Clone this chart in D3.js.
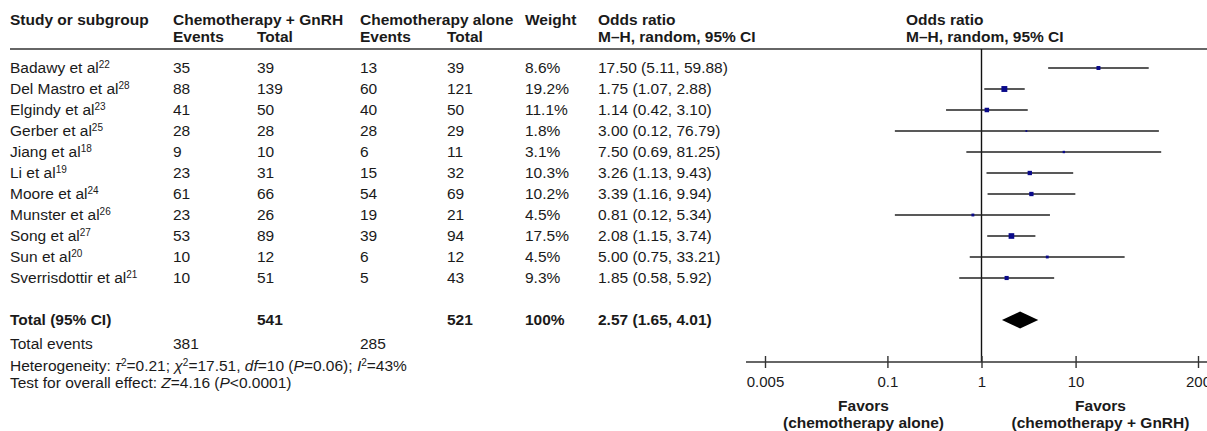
<!DOCTYPE html>
<html>
<head>
<meta charset="utf-8">
<script src="https://d3js.org/d3.v7.min.js"></script>
<style>
  body { margin: 0; background: #fff; }
  svg { display: block; }
  text { font-family: "Liberation Sans", Arial, sans-serif; font-size: 15.5px; fill: #1a1a1a; }
  .b { font-weight: bold; }
</style>
</head>
<body>
<script>
// study rows
const studies = ["Badawy et al", "Del Mastro et al", "Elgindy et al", "Gerber et al", "Jiang et al",
  "Li et al", "Moore et al", "Munster et al", "Song et al", "Sun et al", "Sverrisdottir et al"];
const refs = [22, 28, 23, 25, 18, 19, 24, 26, 27, 20, 21];
const gnrhEvents = [35, 88, 41, 28, 9, 23, 61, 23, 53, 10, 10];
const gnrhTotal = [39, 139, 50, 28, 10, 31, 66, 26, 89, 12, 51];
const aloneEvents = [13, 60, 40, 28, 6, 15, 54, 19, 39, 6, 5];
const aloneTotal = [39, 121, 50, 29, 11, 32, 69, 21, 94, 12, 43];
const weights = [8.6, 19.2, 11.1, 1.8, 3.1, 10.3, 10.2, 4.5, 17.5, 4.5, 9.3];
const oddsRatio = [17.50, 1.75, 1.14, 3.00, 7.50, 3.26, 3.39, 0.81, 2.08, 5.00, 1.85];
const ciLow = [5.11, 1.07, 0.42, 0.12, 0.69, 1.13, 1.16, 0.12, 1.15, 0.75, 0.58];
const ciHigh = [59.88, 2.88, 3.10, 76.79, 81.25, 9.43, 9.94, 5.34, 3.74, 33.21, 5.92];

// pooled result
const totalGnrh = 541, totalAlone = 521;
const eventsGnrh = 381, eventsAlone = 285;
const pooled = [2.57, 1.65, 4.01];
const axisTicks = [0.005, 0.1, 1, 10, 200];

const width = 1207, height = 431;
const f2 = d3.format(".2f");

const svg = d3.select('body').append('svg')
  .attr('width', width).attr('height', height);

// columns (left edges)
const col = { study: 10, gEv: 173, gTot: 257, aEv: 360, aTot: 447, wt: 525, or: 598, plot: 906 };

// row centres: 0..10 studies, 12 = total
const y = d3.scaleLinear().domain([0, 12]).range([68, 320]);
const x = d3.scaleLog().domain([0.005, 200]).range([765, 1198]);
const axisY = 362;

function txt(xp, yp, s, cls) {
  return svg.append('text').attr('x', xp).attr('y', yp).attr('dy', '0.35em')
    .attr('class', cls || null).text(s);
}

// header
txt(col.study, 20, 'Study or subgroup', 'b');
txt(col.gEv, 20, 'Chemotherapy + GnRH', 'b');
txt(col.aEv, 20, 'Chemotherapy alone', 'b');
txt(col.wt, 20, 'Weight', 'b');
txt(col.or, 20, 'Odds ratio', 'b');
txt(col.plot, 20, 'Odds ratio', 'b');
txt(col.gEv, 37, 'Events', 'b');
txt(col.gTot, 37, 'Total', 'b');
txt(col.aEv, 37, 'Events', 'b');
txt(col.aTot, 37, 'Total', 'b');
txt(col.or, 37, 'M\u2013H, random, 95% CI', 'b');
txt(col.plot, 37, 'M\u2013H, random, 95% CI', 'b');

svg.append('line').attr('x1', 10).attr('x2', width).attr('y1', 49).attr('y2', 49)
  .attr('stroke', '#333').attr('stroke-width', 1.6);

// study rows
studies.forEach((s, i) => {
  const t = txt(col.study, y(i), s);
  t.append('tspan').attr('dy', -5).style('font-size', '10px').text(refs[i]);
  txt(col.gEv, y(i), gnrhEvents[i]);
  txt(col.gTot, y(i), gnrhTotal[i]);
  txt(col.aEv, y(i), aloneEvents[i]);
  txt(col.aTot, y(i), aloneTotal[i]);
  txt(col.wt, y(i), weights[i].toFixed(1) + '%');
  txt(col.or, y(i), `${f2(oddsRatio[i])} (${f2(ciLow[i])}, ${f2(ciHigh[i])})`);
});

// totals
txt(col.study, y(12), 'Total (95% CI)', 'b');
txt(col.gTot, y(12), totalGnrh, 'b');
txt(col.aTot, y(12), totalAlone, 'b');
txt(col.wt, y(12), '100%', 'b');
txt(col.or, y(12), `${f2(pooled[0])} (${f2(pooled[1])}, ${f2(pooled[2])})`, 'b');
txt(col.study, 344, 'Total events');
txt(col.gEv, 344, eventsGnrh);
txt(col.aEv, 344, eventsAlone);

// rich text lines
function rich(yp, parts) {
  const t = txt(col.study, yp, '');
  let up = false;
  parts.forEach(p => {
    const sp = t.append('tspan').text(p.t);
    if (p.i) sp.style('font-style', 'italic');
    if (p.s) { sp.attr('dy', -5).style('font-size', '10px'); up = true; }
    else if (up) { sp.attr('dy', 5); up = false; }
  });
}
rich(366, [
  { t: 'Heterogeneity: ' }, { t: '\u03c4', i: 1 }, { t: '2', s: 1 }, { t: '=0.21; ' },
  { t: '\u03c7', i: 1 }, { t: '2', s: 1 }, { t: '=17.51, ' }, { t: 'df', i: 1 },
  { t: '=10 (' }, { t: 'P', i: 1 }, { t: '=0.06); ' }, { t: 'I', i: 1 }, { t: '2', s: 1 }, { t: '=43%' }
]);
rich(383, [
  { t: 'Test for overall effect: ' }, { t: 'Z', i: 1 }, { t: '=4.16 (' }, { t: 'P', i: 1 }, { t: '<0.0001)' }
]);

// forest plot
svg.append('line').attr('x1', x(1)).attr('x2', x(1)).attr('y1', 49).attr('y2', axisY)
  .attr('stroke', '#111').attr('stroke-width', 1.4);

const rows = studies.map((s, i) => ({ i, or: oddsRatio[i], lo: ciLow[i], hi: ciHigh[i], w: weights[i] }));
const g = svg.append('g');
g.selectAll('line.ci').data(rows).join('line').attr('class', 'ci')
  .attr('x1', d => x(d.lo)).attr('x2', d => x(d.hi))
  .attr('y1', d => y(d.i)).attr('y2', d => y(d.i))
  .attr('stroke', '#222').attr('stroke-width', 1.5);
const box = d => 1.35 * Math.sqrt(d.w);
g.selectAll('rect.pt').data(rows).join('rect').attr('class', 'pt')
  .attr('x', d => x(d.or) - box(d) / 2).attr('y', d => y(d.i) - box(d) / 2)
  .attr('width', box).attr('height', box)
  .attr('fill', '#0a0a8a');

// pooled diamond
const dy = y(12);
svg.append('path')
  .attr('d', `M${x(pooled[1])},${dy} L${x(pooled[0])},${dy - 8.5} L${x(pooled[2])},${dy} L${x(pooled[0])},${dy + 8.5} Z`)
  .attr('fill', '#000');

// axis
const ax = svg.append('g').attr('transform', `translate(0,${axisY})`)
  .call(d3.axisBottom(x).tickValues(axisTicks).tickFormat(d => String(d)).tickSizeOuter(0));
ax.select('.domain').remove();
ax.append('line').attr('x1', x(0.005) - 19).attr('x2', width)
  .attr('stroke', '#333').attr('stroke-width', 1.6);
ax.selectAll('.tick line').attr('y1', -6).attr('y2', 6).attr('stroke', '#333').attr('stroke-width', 1.4);
ax.selectAll('.tick text').attr('y', 20).attr('dy', '0.35em')
  .style('font-size', '15px').style('font-family', '"Liberation Sans", Arial, sans-serif').attr('fill', '#1a1a1a');

// favors labels
const favL = x(1) - 118, favR = x(1) + 119;
txt(favL, 406, 'Favors', 'b').attr('text-anchor', 'middle');
txt(favL, 423, '(chemotherapy alone)', 'b').attr('text-anchor', 'middle');
txt(favR, 406, 'Favors', 'b').attr('text-anchor', 'middle');
txt(favR, 423, '(chemotherapy + GnRH)', 'b').attr('text-anchor', 'middle');
</script>
</body>
</html>
